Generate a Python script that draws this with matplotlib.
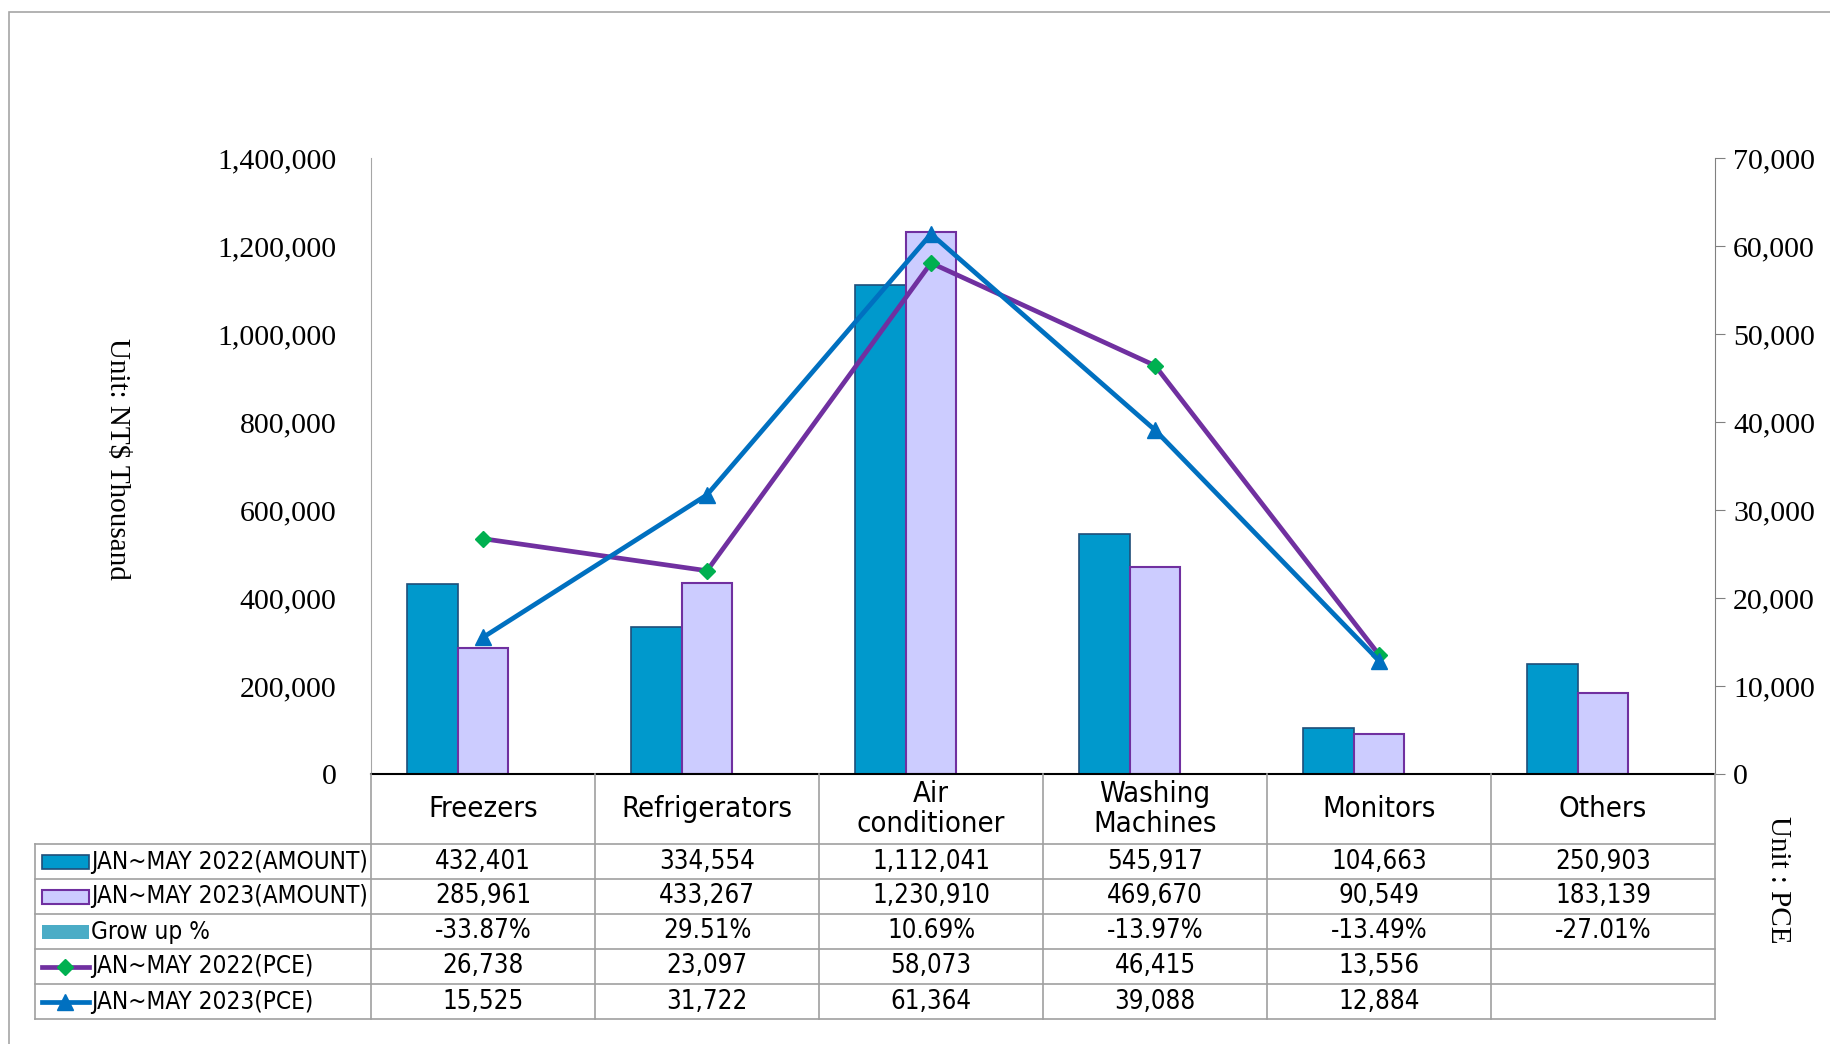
import matplotlib
matplotlib.use("Agg")
import matplotlib.pyplot as plt
import matplotlib.patches as mpatches
from matplotlib.lines import Line2D
import numpy as np

############################################
## Data
############################################

categories = ["Freezers", "Refrigerators", "Air\nconditioner", "Washing\nMachines", "Monitors", "Others"]
amount_2022 = [432401, 334554, 1112041, 545917, 104663, 250903]
amount_2023 = [285961, 433267, 1230910, 469670, 90549, 183139]
grow_pct = [-33.87, 29.51, 10.69, -13.97, -13.49, -27.01]
pce_2022 = [26738, 23097, 58073, 46415, 13556, None]
pce_2023 = [15525, 31722, 61364, 39088, 12884, None]
row_labels = ["JAN~MAY 2022(AMOUNT)", "JAN~MAY 2023(AMOUNT)", "Grow up %",
              "JAN~MAY 2022(PCE)", "JAN~MAY 2023(PCE)"]
left_ticks = [0, 200000, 400000, 600000, 800000, 1000000, 1200000, 1400000]
right_ticks = [0, 10000, 20000, 30000, 40000, 50000, 60000, 70000]

############################################
## Styles
############################################

c_bar22, c_edge22 = "#0099CC", "#1F4E79"
c_bar23, c_edge23 = "#CCCCFF", "#7030A0"
c_grow = "#4BACC6"
c_line22, c_mark22 = "#7030A0", "#00B050"
c_line23 = "#0070C0"
grid_c = "#A0A0A0"

tick_font = ["Liberation Serif", "DejaVu Serif"]
table_font = ["DejaVu Sans"]
head_fs = 21
val_fs = 18.5
lab_fs = 17.5

W, H = 1830, 1044
fig = plt.figure(figsize=(W / 100, H / 100), dpi=100)

def fx(px):
    return px / W

def fy(px):
    return 1 - px / H

# outer frame
fig.patches.append(mpatches.Rectangle((fx(9), fy(1060)), fx(1900), fy(12) - fy(1060),
                                      transform=fig.transFigure, fill=False,
                                      edgecolor="#A6A6A6", lw=1.2))

############################################
## Main chart
############################################

ax_l, ax_r, ax_t, ax_b = 371, 1715, 158, 774
ax = fig.add_axes([fx(ax_l), fy(ax_b), fx(ax_r) - fx(ax_l), fy(ax_t) - fy(ax_b)])
x = np.arange(len(categories))
bw = 0.225
# three bar series per group (grow-up % is practically invisible on this scale)
ax.bar(x - bw, amount_2022, bw, color=c_bar22, edgecolor=c_edge22, lw=1.2, zorder=2)
ax.bar(x, amount_2023, bw, color=c_bar23, edgecolor=c_edge23, lw=1.5, zorder=2)
ax.bar(x + bw, grow_pct, bw, color=c_grow, lw=0, zorder=2)
ax.set_xlim(-0.5, len(categories) - 0.5)
ax.set_ylim(0, 1400000)
ax.set_yticks(left_ticks)
ax.set_yticklabels([f"{v:,}" for v in left_ticks], fontfamily=tick_font, fontsize=21.5)
ax.tick_params(axis="y", length=0, pad=25)
ax.set_xticks([])
for s in ["top", "right"]:
    ax.spines[s].set_visible(False)
ax.spines["left"].set_color("#A6A6A6")
ax.spines["bottom"].set_color("black")
ax.spines["bottom"].set_linewidth(1.5)
ax.patch.set_alpha(0)

ax2 = ax.twinx()
n_pce = sum(v is not None for v in pce_2022)
ax2.plot(x[:n_pce], pce_2022[:n_pce], color=c_line22, lw=3.4, marker="D",
         markersize=8, markerfacecolor=c_mark22, markeredgecolor=c_mark22, zorder=3)
ax2.plot(x[:n_pce], pce_2023[:n_pce], color=c_line23, lw=3.4, marker="^",
         markersize=11, markerfacecolor=c_line23, markeredgecolor=c_line23, zorder=4)
ax2.set_ylim(0, 70000)
ax2.set_yticks(right_ticks)
ax2.set_yticklabels([f"{v:,}" for v in right_ticks], fontfamily=tick_font, fontsize=21.5)
ax2.tick_params(axis="y", length=7, color="#808080", pad=6)
for s in ["top", "left", "bottom"]:
    ax2.spines[s].set_visible(False)
ax2.spines["right"].set_color("#808080")

fig.text(fx(117), fy(459), "Unit: NT$ Thousand", rotation=-90, ha="center", va="center",
         fontsize=21, fontfamily=tick_font)
fig.text(fx(1778), fy(880), "Unit : PCE", rotation=-90, ha="center", va="center",
         fontsize=21, fontfamily=tick_font)

############################################
## Data table
############################################

tab_t, tab_b = 774, 1019
tax = fig.add_axes([fx(35), fy(tab_b), fx(ax_r) - fx(35), fy(tab_t) - fy(tab_b)])
tax.set_xlim(-2.0, len(categories) - 0.5)
tax.set_ylim(7, 0)
tax.axis("off")

# grid
for yy in range(2, 8):
    tax.plot([-2.0, len(categories) - 0.5], [yy, yy], color=grid_c, lw=1.2, clip_on=False)
tax.plot([-2.0, -2.0], [2, 7], color=grid_c, lw=1.2, clip_on=False)
for xx in np.arange(-0.5, len(categories), 1.0):
    tax.plot([xx, xx], [0, 7], color=grid_c, lw=1.2, clip_on=False)

# header
for i, c in enumerate(categories):
    tax.text(i, 1.0, c, ha="center", va="center", fontsize=head_fs, fontfamily=table_font,
             fontstretch="condensed", linespacing=1.1)

# rows
rows = [[f"{v:,}" for v in amount_2022],
        [f"{v:,}" for v in amount_2023],
        [f"{v:.2f}%" for v in grow_pct],
        [f"{v:,}" if v is not None else "" for v in pce_2022],
        [f"{v:,}" if v is not None else "" for v in pce_2023]]
for r, vals in enumerate(rows):
    for i, v in enumerate(vals):
        tax.text(i, 2.5 + r, v, ha="center", va="center", fontsize=val_fs,
                 fontfamily=table_font, fontstretch="condensed")

# legend keys
key_x0, key_x1 = -1.97, -1.76
for r, lab in enumerate(row_labels):
    yc = 2.5 + r
    if r == 0:
        tax.add_patch(mpatches.Rectangle((key_x0, yc - 0.2), key_x1 - key_x0, 0.4,
                                         facecolor=c_bar22, edgecolor=c_edge22, lw=1.2))
    elif r == 1:
        tax.add_patch(mpatches.Rectangle((key_x0, yc - 0.2), key_x1 - key_x0, 0.4,
                                         facecolor=c_bar23, edgecolor=c_edge23, lw=1.5))
    elif r == 2:
        tax.add_patch(mpatches.Rectangle((key_x0, yc - 0.2), key_x1 - key_x0, 0.4,
                                         facecolor=c_grow, edgecolor="none"))
    elif r == 3:
        tax.add_line(Line2D([key_x0, key_x1], [yc, yc], color=c_line22, lw=3.4))
        tax.add_line(Line2D([(key_x0 + key_x1) / 2], [yc], marker="D", markersize=8,
                            color=c_mark22))
    else:
        tax.add_line(Line2D([key_x0, key_x1], [yc, yc], color=c_line23, lw=3.4))
        tax.add_line(Line2D([(key_x0 + key_x1) / 2], [yc], marker="^", markersize=11,
                            color=c_line23))
    tax.text(key_x1 + 0.01, yc, lab, ha="left", va="center", fontsize=lab_fs,
             fontfamily=table_font, fontstretch="condensed")

fig.savefig("out.png", dpi=100)
